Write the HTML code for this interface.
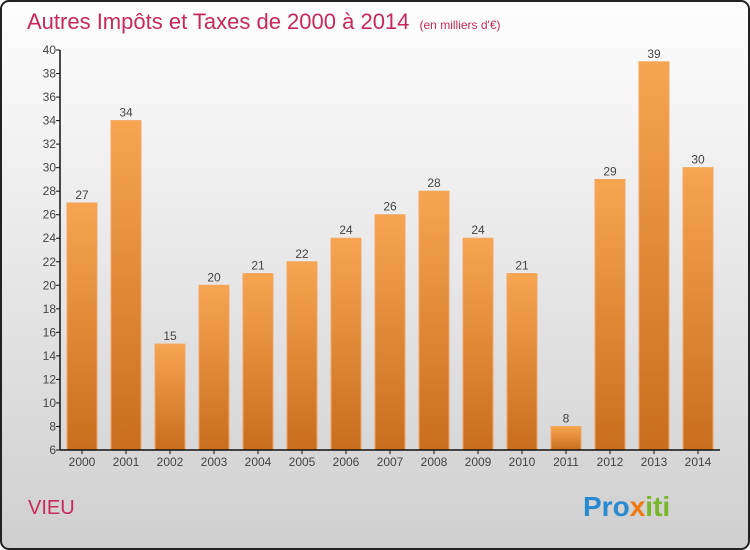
<!DOCTYPE html>
<html><head><meta charset="utf-8"><style>
body{margin:0;width:750px;height:550px;overflow:hidden;font-family:"Liberation Sans",sans-serif}
svg{display:block}
</style></head><body>
<svg id="chart" width="750" height="550">
<defs>
<linearGradient id="bg" x1="0" y1="0" x2="0" y2="1"><stop offset="0" stop-color="#fefefe"/><stop offset="1" stop-color="#cfcfcf"/></linearGradient>
<linearGradient id="bar" x1="0" y1="0" x2="0" y2="1"><stop offset="0" stop-color="#f7a550"/><stop offset="1" stop-color="#c86e1c"/></linearGradient>
</defs>
<rect x="1" y="1" width="748" height="548" rx="8" fill="url(#bg)" stroke="#222" stroke-width="2"/>
<text x="27" y="29" font-size="22" fill="#c8285a">Autres Impôts et Taxes de 2000 à 2014 <tspan font-size="12" dx="4">(en milliers d'€)</tspan></text>
<text x="28" y="514" font-size="20" fill="#c8285a">VIEU</text>
<text x="583" y="516" font-size="28" font-weight="bold"><tspan fill="#2a8ad0">Pro</tspan><tspan fill="#f07a10">x</tspan><tspan fill="#7ab62a">iti</tspan></text>
<g id="plot"></g>
</svg>
<script>
const years=["2000","2001","2002","2003","2004","2005","2006","2007","2008","2009","2010","2011","2012","2013","2014"];
const values=[27,34,15,20,21,22,24,26,28,24,21,8,29,39,30];
const yTicks=[6,8,10,12,14,16,18,20,22,24,26,28,30,32,34,36,38,40];
const NS="http://www.w3.org/2000/svg";
const plotG=document.getElementById('plot');
const yMin=6,yMax=40,plotTop=50,plotBot=450,plotLeft=60;
function yScale(v){return plotBot-(v-yMin)/(yMax-yMin)*(plotBot-plotTop);}
function xScale(i){return 82+i*44;}
function mk(t,a){const e=document.createElementNS(NS,t);for(const k in a)e.setAttribute(k,a[k]);plotG.appendChild(e);return e;}
values.forEach(function(v,i){
 const r=mk('rect',{x:xScale(i)-15,y:yScale(v),width:30,height:plotBot-yScale(v),fill:'url(#bar)',stroke:'#f2a862','stroke-width':1});
 
 
 const t=mk('text',{x:xScale(i),y:yScale(v)-4,'text-anchor':'middle','font-size':12,fill:'#444'});t.textContent=v;
 
 
 const l=mk('text',{x:xScale(i),y:plotBot+16,'text-anchor':'middle','font-size':12,fill:'#444'});l.textContent=years[i];
 
 
 mk('line',{x1:xScale(i),x2:xScale(i),y1:plotBot,y2:plotBot+4,stroke:'#111'});
});
yTicks.forEach(function(v){
 mk('line',{x1:plotLeft-4,x2:plotLeft,y1:yScale(v),y2:yScale(v),stroke:'#111'});
 const t=mk('text',{x:plotLeft-4,y:yScale(v)+4,'text-anchor':'end','font-size':12,fill:'#444'});t.textContent=v;
 
 
});
const ya=mk('line',{x1:plotLeft,x2:plotLeft,y1:plotTop,y2:plotBot,stroke:'#111','stroke-width':1.5});


const xa=mk('line',{x1:plotLeft,x2:720,y1:plotBot,y2:plotBot,stroke:'#111','stroke-width':1.5});


</script>
</body></html>
